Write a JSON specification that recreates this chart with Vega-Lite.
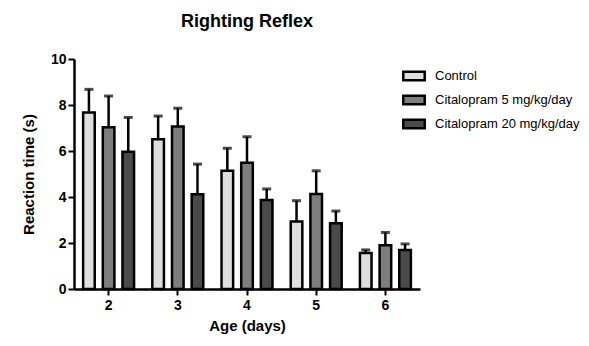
{
  "$schema": "https://vega.github.io/schema/vega-lite/v6.json",
  "autosize": "none",
  "padding": {"left": 74, "top": 59, "right": 169, "bottom": 57},
  "width": 346,
  "height": 230,
  "title": {"text": "Righting Reflex", "fontSize": 18, "fontWeight": "bold", "font": "Liberation Sans", "color": "#000", "frame": "group", "anchor": "middle", "offset": 21},
  "data": {"values": [
    {"age": "2", "group": "Control", "mean": 7.67, "upper": 8.68},
    {"age": "2", "group": "Citalopram 5 mg/kg/day", "mean": 7.03, "upper": 8.39},
    {"age": "2", "group": "Citalopram 20 mg/kg/day", "mean": 5.97, "upper": 7.46},
    {"age": "3", "group": "Control", "mean": 6.51, "upper": 7.52},
    {"age": "3", "group": "Citalopram 5 mg/kg/day", "mean": 7.06, "upper": 7.86},
    {"age": "3", "group": "Citalopram 20 mg/kg/day", "mean": 4.12, "upper": 5.43},
    {"age": "4", "group": "Control", "mean": 5.14, "upper": 6.12},
    {"age": "4", "group": "Citalopram 5 mg/kg/day", "mean": 5.49, "upper": 6.62},
    {"age": "4", "group": "Citalopram 20 mg/kg/day", "mean": 3.87, "upper": 4.35},
    {"age": "5", "group": "Control", "mean": 2.93, "upper": 3.84},
    {"age": "5", "group": "Citalopram 5 mg/kg/day", "mean": 4.13, "upper": 5.14},
    {"age": "5", "group": "Citalopram 20 mg/kg/day", "mean": 2.86, "upper": 3.39},
    {"age": "6", "group": "Control", "mean": 1.56, "upper": 1.7},
    {"age": "6", "group": "Citalopram 5 mg/kg/day", "mean": 1.9, "upper": 2.46},
    {"age": "6", "group": "Citalopram 20 mg/kg/day", "mean": 1.7, "upper": 1.96}
  ]},
  "encoding": {
    "x": {"field": "age", "type": "nominal", "sort": null,
      "scale": {"paddingInner": 0.15, "paddingOuter": 0.075},
      "axis": {"title": "Age (days)", "labelAngle": 0, "domainColor": "#000", "domainWidth": 2.5, "tickColor": "#000", "tickWidth": 2, "tickSize": 6, "labelFontSize": 14, "labelFontWeight": "bold", "labelColor": "#000", "labelPadding": 3, "titleFontSize": 15, "titleFontWeight": "bold", "titleColor": "#000", "titlePadding": 6}},
    "xOffset": {"field": "group", "type": "nominal", "sort": ["Control", "Citalopram 5 mg/kg/day", "Citalopram 20 mg/kg/day"],
      "scale": {"paddingInner": 0.41, "paddingOuter": 0.2}}
  },
  "layer": [
    {
      "mark": {"type": "rule", "color": "#000", "strokeWidth": 2.5},
      "encoding": {
        "y": {"field": "mean", "type": "quantitative"},
        "y2": {"field": "upper"}
      }
    },
    {
      "mark": {"type": "tick", "color": "#000", "size": 9, "thickness": 3, "orient": "horizontal"},
      "encoding": {
        "y": {"field": "upper", "type": "quantitative"}
      }
    },
    {
      "mark": {"type": "bar", "stroke": "#000", "strokeWidth": 2.5},
      "encoding": {
        "y": {"field": "mean", "type": "quantitative",
          "scale": {"domain": [0, 10], "nice": false},
          "axis": {"title": "Reaction time (s)", "values": [0, 2, 4, 6, 8, 10], "grid": false, "domainColor": "#000", "domainWidth": 2.5, "tickColor": "#000", "tickWidth": 2, "tickSize": 6, "labelFontSize": 14, "labelFontWeight": "bold", "labelColor": "#000", "labelPadding": 2, "titleFontSize": 15, "titleFontWeight": "bold", "titleColor": "#000", "titlePadding": 14}},
        "fill": {"field": "group", "type": "nominal", "sort": ["Control", "Citalopram 5 mg/kg/day", "Citalopram 20 mg/kg/day"],
          "scale": {"range": ["#dedede", "#7e7e7e", "#4a4a4a"]},
          "legend": {"title": null, "orient": "none", "legendX": 328, "legendY": 5, "symbolType": "M-1,-0.4H1V0.4H-1Z", "symbolSize": 460, "symbolStrokeColor": "#000", "symbolStrokeWidth": 2.5, "symbolOpacity": 1, "labelFontSize": 13, "labelColor": "#000", "labelOffset": 9, "rowPadding": 2, "labelLimit": 300}}
      }
    }
  ],
  "config": {
    "view": {"stroke": null},
    "font": "Liberation Sans"
  }
}
